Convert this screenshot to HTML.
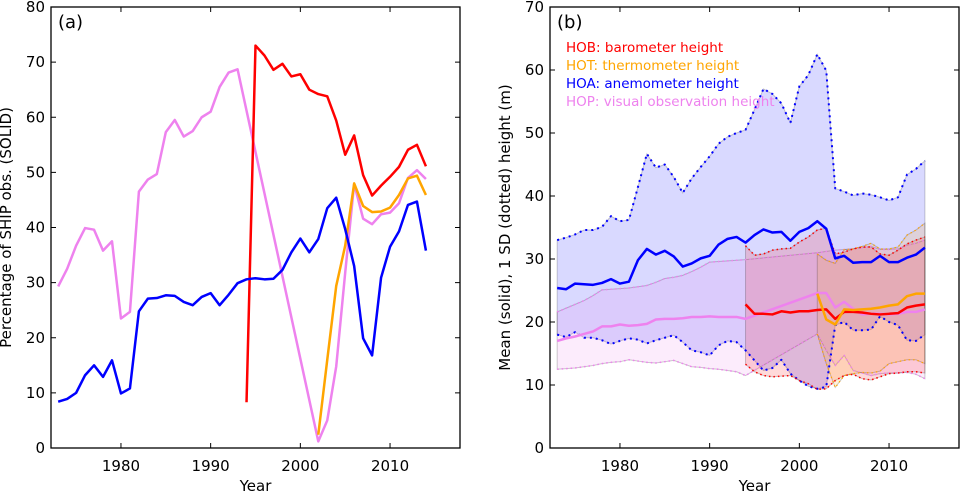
<!DOCTYPE html>
<html><head><meta charset="utf-8"><style>
body{margin:0;background:#fff}
svg{display:block;font-family:"DejaVu Sans","Liberation Sans",sans-serif}
</style></head><body>
<svg id="chart" width="962" height="493" viewBox="0 0 962 493"></svg>
<script>
const years=[];for(let y=1973;y<=2014;y++)years.push(y);
const N=null;
// Panel (a): percentage of SHIP obs
const aHOA=[8.4,8.9,10,13.2,15,12.9,15.9,9.9,10.8,24.8,27.1,27.2,27.7,27.6,26.5,25.9,27.4,28.1,25.9,27.8,29.9,30.6,30.8,30.6,30.7,32.3,35.5,38,35.5,37.9,43.5,45.4,39.7,33,19.9,16.8,30.9,36.5,39.3,44.1,44.7,35.8];
const aHOP=[29.3,32.5,36.7,39.9,39.6,35.8,37.5,23.5,24.7,46.5,48.7,49.7,57.3,59.5,56.5,57.5,60,61,65.5,68.1,68.7,N,N,N,N,N,N,N,N,1.2,5,14.8,31.8,47.9,41.6,40.6,42.4,42.7,44.4,49,50.4,48.8];
const aHOB=[N,N,N,N,N,N,N,N,N,N,N,N,N,N,N,N,N,N,N,N,N,8.3,73,71.2,68.6,69.7,67.4,67.8,65,64.2,63.8,59.4,53.2,56.7,49.5,45.8,47.6,49.2,51,54.1,55,51.1];
const aHOT=[N,N,N,N,N,N,N,N,N,N,N,N,N,N,N,N,N,N,N,N,N,N,N,N,N,N,N,N,N,2.4,16,29.4,36.7,48,43.9,42.8,42.9,43.6,45.9,48.9,49.4,45.9];
// Panel (b): mean and +/-1 SD heights
const bHOAmean=[25.4,25.2,26.1,26,25.9,26.2,26.8,26.1,26.4,29.8,31.6,30.7,31.3,30.4,28.8,29.3,30.1,30.5,32.3,33.2,33.5,32.6,33.8,34.7,34.2,34.3,32.9,34.3,34.9,36,34.8,30.1,30.5,29.4,29.5,29.5,30.5,29.5,29.5,30.2,30.7,31.8];
const bHOAup=[33,33.4,33.9,34.6,34.6,35.1,36.8,36,36.2,41.4,46.7,44.5,45,43,40.5,42.8,44.6,46.3,48.3,49.4,50,50.5,53.7,57,56.2,54.7,51.6,57.4,59.2,62.5,59.9,41.2,40.7,40.1,40.4,40.2,39.8,39.3,39.8,43.4,44.3,45.6];
const bHOAlo=[18,17.6,18.4,17.5,17.5,17.1,16.5,17,17.4,17.2,16.6,17.1,17.5,17.9,16.8,15.5,15.2,14.7,16.3,17,16.8,15.5,13.9,12.3,12.7,14,11.8,10.7,9.8,9.4,9.7,19.5,20,18.7,18.7,18.8,20.9,20,19.5,17.1,17,18];
const bHOPmean=[17,17.4,17.7,18.1,18.5,19.3,19.3,19.6,19.4,19.5,19.7,20.4,20.5,20.5,20.6,20.8,20.8,20.9,20.8,20.8,20.8,20.5,N,N,N,N,N,N,N,24.6,24.6,22.3,23.2,22.1,21.2,21.3,21.3,21.2,21.3,21.6,21.6,22];
const bHOPup=[21.6,22.2,22.8,23.4,24.2,25.1,25.2,25.3,25.4,25.6,25.8,26.3,26.9,27.1,27.4,28,28.7,29.5,29.6,29.7,29.8,29.9,N,N,N,N,N,N,N,31,31.2,31.4,31.5,31.6,31.8,32,31.5,31.5,31.6,32.2,32.5,33];
const bHOPlo=[12.5,12.6,12.7,12.9,13.1,13.4,13.6,13.7,14,13.8,13.6,13.5,13.7,13.9,13.4,12.9,12.8,12.6,12.5,12.3,12.1,11.5,N,N,N,N,N,N,N,18.1,15.5,13.1,14.7,12.3,11.9,11.5,11.8,11.9,11.9,12,11.7,11];
const bHOBmean=[N,N,N,N,N,N,N,N,N,N,N,N,N,N,N,N,N,N,N,N,N,22.8,21.3,21.3,21.2,21.7,21.5,21.7,21.7,21.9,22,20.5,21.6,21.6,21.5,21.3,21.2,21.3,21.4,22.3,22.6,22.8];
const bHOBup=[N,N,N,N,N,N,N,N,N,N,N,N,N,N,N,N,N,N,N,N,N,32.1,30.6,30.8,31.4,31.6,31.7,32.7,33.5,34.6,34.9,30.8,31.1,31.6,31.9,31.9,30.8,30.6,31.4,32.4,33,33.5];
const bHOBlo=[N,N,N,N,N,N,N,N,N,N,N,N,N,N,N,N,N,N,N,N,N,13.3,12.1,11.5,11.3,11.4,11.5,10.7,10.2,9.3,9.4,10.7,11.5,11.7,11,10.8,11.3,11.8,11.9,12.1,12.1,11.9];
const bHOTmean=[N,N,N,N,N,N,N,N,N,N,N,N,N,N,N,N,N,N,N,N,N,N,N,N,N,N,N,N,N,24.5,20.4,19.6,22,21.9,22,22.1,22.3,22.6,22.8,24.1,24.5,24.5];
const bHOTup=[N,N,N,N,N,N,N,N,N,N,N,N,N,N,N,N,N,N,N,N,N,N,N,N,N,N,N,N,N,30.8,29.8,29.3,31.5,31.6,32,32.5,31.6,31.6,31.9,33.8,34.6,35.7];
const bHOTlo=[N,N,N,N,N,N,N,N,N,N,N,N,N,N,N,N,N,N,N,N,N,N,N,N,N,N,N,N,N,18.1,13.4,9.6,11.5,11.8,12,11.9,12.2,13.4,13.7,14,14,13.4];
const aYTicks=[0,10,20,30,40,50,60,70,80];
const bYTicks=[0,10,20,30,40,50,60,70];
const xTicks=[1980,1990,2000,2010];

const svg=document.getElementById('chart');
const NS='http://www.w3.org/2000/svg';
function mk(tag,attrs,parent){const e=document.createElementNS(NS,tag);for(const k in attrs)e.setAttribute(k,attrs[k]);(parent||svg).appendChild(e);return e;}

function panel(id,L,R,T,B,ymax,yticks,ylabel,tag){
  const g=mk('g',{});
  
  
  const x0=1972.2,x1=2017.8;
  const sx=v=>L+(v-x0)/(x1-x0)*(R-L);
  const sy=v=>B-v/ymax*(B-T);
  const plot=mk('g',{},g);
  // axes
  for(const t of yticks){
    const y=sy(t);
    mk('line',{x1:L,x2:L+5,y1:y,y2:y,stroke:'#000','stroke-width':1},g);
    mk('line',{x1:R,x2:R-5,y1:y,y2:y,stroke:'#000','stroke-width':1},g);
    const tx=mk('text',{x:L-6,y:y+5,'text-anchor':'end','font-size':15},g);
    tx.textContent=t;
    
    
  }
  for(const t of xTicks){
    const x=sx(t);
    mk('line',{x1:x,x2:x,y1:B,y2:B-5,stroke:'#000','stroke-width':1},g);
    mk('line',{x1:x,x2:x,y1:T,y2:T+5,stroke:'#000','stroke-width':1},g);
    const tx=mk('text',{x:x,y:B+23,'text-anchor':'middle','font-size':15},g);
    tx.textContent=t;
    
    
  }
  const fr=mk('rect',{x:L,y:T,width:R-L,height:B-T,fill:'none',stroke:'#000','stroke-width':1.3},g);
  
  
  const xl=mk('text',{x:(L+R)/2,y:B+43,'text-anchor':'middle','font-size':15},g);
  xl.textContent='Year';
  
  
  const yx=L-40,yy=(T+B)/2;
  const yl=mk('text',{x:yx,y:yy,'text-anchor':'middle','font-size':15,transform:`rotate(-90 ${yx} ${yy})`},g);
  yl.textContent=ylabel;
  
  
  const pt=mk('text',{x:L+7,y:T+21,'font-size':18},g);
  pt.textContent=tag;
  
  
  return {plot,sx,sy};
}
function pts(arr,sx,sy){const p=[];arr.forEach((v,i)=>{if(v!==null)p.push([sx(years[i]),sy(v)]);});return p;}
function line(P,arr,color,w,dash,name){
  const p=pts(arr,P.sx,P.sy);
  const l=mk('polyline',{points:p.map(q=>q.join(',')).join(' '),fill:'none',stroke:color,'stroke-width':w,'stroke-linejoin':'round'},P.plot);
  if(dash)l.setAttribute('stroke-dasharray',dash);
  
  
}
function band(P,up,lo,color,op,name){
  const u=pts(up,P.sx,P.sy),d=pts(lo,P.sx,P.sy).reverse();
  const b=mk('polygon',{points:u.concat(d).map(q=>q.join(',')).join(' '),fill:color,'fill-opacity':op,stroke:'#000','stroke-opacity':0.2,'stroke-width':1},P.plot);
  
  
}

const A=panel('panel-a',51,460,7,448,80,aYTicks,'Percentage of SHIP obs. (SOLID)','(a)');
line(A,aHOP,'violet',2.5,null,'line-hop-pct');
line(A,aHOB,'red',2.5,null,'line-hob-pct');
line(A,aHOT,'orange',2.5,null,'line-hot-pct');
line(A,aHOA,'blue',2.5,null,'line-hoa-pct');

const Bp=panel('panel-b',550,959,7,448,70,bYTicks,'Mean (solid), 1 SD (dotted) height (m)','(b)');
band(Bp,bHOAup,bHOAlo,'blue',0.15,'band-hoa-sd');
band(Bp,bHOPup,bHOPlo,'violet',0.15,'band-hop-sd');
band(Bp,bHOBup,bHOBlo,'red',0.15,'band-hob-sd');
band(Bp,bHOTup,bHOTlo,'orange',0.15,'band-hot-sd');
line(Bp,bHOAup,'blue',2,'2,4','line-hoa-upper');
line(Bp,bHOAlo,'blue',2,'2,4','line-hoa-lower');
line(Bp,bHOPup,'violet',1.5,'1.5,3','line-hop-upper');
line(Bp,bHOPlo,'violet',1.5,'1.5,3','line-hop-lower');
line(Bp,bHOBup,'red',1.5,'1.5,3','line-hob-upper');
line(Bp,bHOBlo,'red',1.5,'1.5,3','line-hob-lower');
line(Bp,bHOTup,'orange',1.2,'1.5,3','line-hot-upper');
line(Bp,bHOTlo,'orange',1.2,'1.5,3','line-hot-lower');
line(Bp,bHOAmean,'blue',2.5,null,'line-hoa-mean');
line(Bp,bHOPmean,'violet',2.5,null,'line-hop-mean');
line(Bp,bHOBmean,'red',2.5,null,'line-hob-mean');
line(Bp,bHOTmean,'orange',2.5,null,'line-hot-mean');

const legend=[['HOB: barometer height','red'],['HOT: thermometer height','orange'],['HOA: anemometer height','blue'],['HOP: visual observation height','violet']];
const lg=mk('g',{});


legend.forEach((e,i)=>{
  const t=mk('text',{x:566,y:52+i*18,'font-size':13.5,fill:e[1]},lg);
  t.textContent=e[0];
  
  
});
</script>
</body></html>
